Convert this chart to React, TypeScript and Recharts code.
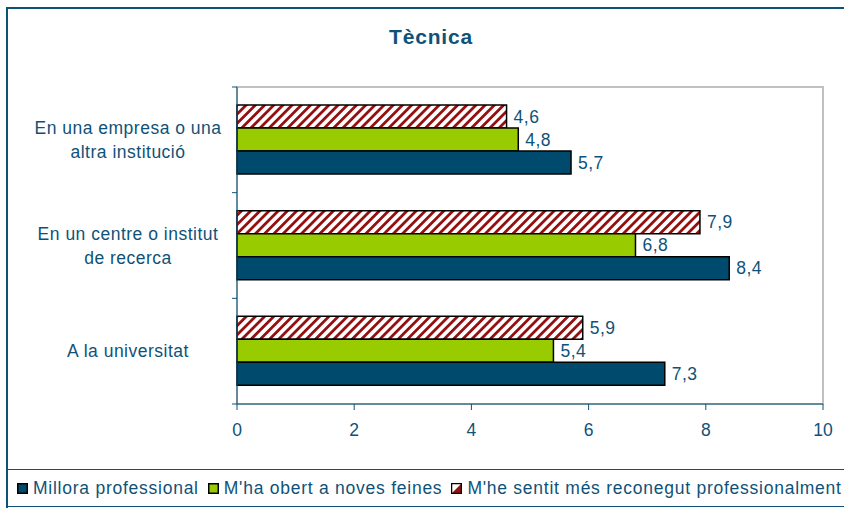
import React from 'react';
import { BarChart, Bar, XAxis, YAxis, LabelList, ReferenceArea } from 'recharts';

const categories = ['En una empresa o una altra institució', 'En un centre o institut de recerca', 'A la universitat'];
const categoryLines = [['En una empresa o una', 'altra institució'], ['En un centre o institut', 'de recerca'], ['A la universitat']];
const milloraProfessional = [5.7, 8.4, 7.3];
const obertNovesFeines = [4.8, 6.8, 5.4];
const sentitReconegut = [4.6, 7.9, 5.9];
const xTicks = [0, 2, 4, 6, 8, 10];

const seriesNames = ['Millora professional', "M'ha obert a noves feines", "M'he sentit més reconegut professionalment"];

const data = categories.map((c, i) => ({
  category: c,
  millora: milloraProfessional[i],
  noves: obertNovesFeines[i],
  reconegut: sentitReconegut[i],
}));

const TEXT = '#0f5278';
const BLUE = '#004a6e';
const GREEN = '#99cc00';
const HATCH = '#951010';
const FONT = '"Liberation Sans", Arial, sans-serif';
const FS = 17.5;
const LS = 0.5;

const W = 844;
const H = 470;
const TOP = 87;
const RIGHT = 21;
const Y_W = 237;
const X_H = 40;
const BOTTOM = 26;
const plotH = H - TOP - BOTTOM - X_H;
const band = plotH / categories.length;

const fmt = (v: any) => String(v).replace('.', ',');

const CatTick = (props: any) => {
  const { y, payload, index } = props;
  const lines = categoryLines[index] || [payload.value];
  const start = y - ((lines.length - 1) * 24) / 2;
  return (
    <g>
      <line x1={Y_W - 5} x2={Y_W} y1={y - band / 2} y2={y - band / 2} stroke={TEXT} />
      {index === categories.length - 1 && (
        <line x1={Y_W - 5} x2={Y_W} y1={y + band / 2} y2={y + band / 2} stroke={TEXT} />
      )}
      <text x={128} y={start} textAnchor="middle" dominantBaseline="central" fill={TEXT} fontSize={FS} letterSpacing={LS} fontFamily={FONT}>
        {lines.map((l: string, k: number) => (
          <tspan key={k} x={128} dy={k === 0 ? 0 : 24}>
            {l}
          </tspan>
        ))}
      </text>
    </g>
  );
};

function Swatch({ kind }: { kind: number }) {
  const fill = kind === 0 ? BLUE : kind === 1 ? GREEN : undefined;
  return (
    <svg width={11} height={11} style={{ marginRight: 5 }}>
      {kind === 2 ? (
        <>
          <rect x={0.5} y={0.5} width={10} height={10} fill="#fff" stroke="#000" />
          <polygon points="1,10 10,1 10,10" fill={HATCH} />
          <rect x={0.5} y={0.5} width={10} height={10} fill="none" stroke="#000" strokeWidth={1.5} />
        </>
      ) : (
        <rect x={0.75} y={0.75} width={9.5} height={9.5} fill={fill} stroke="#000" strokeWidth={1.5} />
      )}
    </svg>
  );
}

export default function App() {
  return (
    <div style={{ position: 'absolute', left: 0, top: 0, width: W, height: 508, overflow: 'hidden', background: '#fff', fontFamily: FONT }}>
      <div style={{ position: 'absolute', left: 6, top: 7, width: 900, height: 520, borderLeft: '2px solid #0f5278', borderTop: '2px solid #0f5278' }} />
      <div style={{ position: 'absolute', left: 0, top: 25, width: 862, textAlign: 'center', color: TEXT, fontSize: 21, letterSpacing: 0.8, fontWeight: 'bold' }}>
        Tècnica
      </div>
      <div style={{ position: 'absolute', left: 0, top: 0 }}>
        <BarChart
          width={W}
          height={H}
          data={data}
          layout="vertical"
          margin={{ top: TOP, right: RIGHT, left: 0, bottom: BOTTOM }}
          barCategoryGap="17%"
          barGap={0}
        >
          <defs>
            <pattern id="hatch" patternUnits="userSpaceOnUse" width={6.5} height={6.5} patternTransform="rotate(45)">
              <rect x={0} y={0} width={6.5} height={6.5} fill="#fff" />
              <rect x={0} y={0} width={2.8} height={6.5} fill={HATCH} />
            </pattern>
          </defs>
          <ReferenceArea x1={0} x2={10} fill="none" stroke="#c0c0c0" strokeWidth={2} ifOverflow="visible" />
          <XAxis
            type="number"
            domain={[0, 10]}
            ticks={xTicks}
            height={X_H}
            stroke={TEXT}
            tickSize={6}
            tick={{ fill: TEXT, fontSize: FS, fontFamily: FONT }}
            tickMargin={14}
          />
          <YAxis type="category" dataKey="category" width={Y_W} stroke={TEXT} tickLine={false} tick={<CatTick />} interval={0} />
          <Bar dataKey="reconegut" name={seriesNames[2]} fill="url(#hatch)" stroke="#000" strokeWidth={1.5} isAnimationActive={false}>
            <LabelList dataKey="reconegut" position="right" formatter={fmt} fill={TEXT} fontSize={FS} letterSpacing={LS} fontFamily={FONT} offset={7} />
          </Bar>
          <Bar dataKey="noves" name={seriesNames[1]} fill={GREEN} stroke="#000" strokeWidth={1.5} isAnimationActive={false}>
            <LabelList dataKey="noves" position="right" formatter={fmt} fill={TEXT} fontSize={FS} letterSpacing={LS} fontFamily={FONT} offset={7} />
          </Bar>
          <Bar dataKey="millora" name={seriesNames[0]} fill={BLUE} stroke="#000" strokeWidth={1.5} isAnimationActive={false}>
            <LabelList dataKey="millora" position="right" formatter={fmt} fill={TEXT} fontSize={FS} letterSpacing={LS} fontFamily={FONT} offset={7} />
          </Bar>
        </BarChart>
      </div>
      <div
        style={{
          position: 'absolute',
          left: 6,
          top: 469,
          width: 900,
          height: 36,
          borderLeft: '2px solid #0f5278',
          borderTop: '1px solid #0f5278',
          borderBottom: '1px solid #0f5278',
          display: 'flex',
          alignItems: 'center',
          paddingLeft: 9,
          color: TEXT,
          fontSize: FS,
          letterSpacing: 0.75,
          whiteSpace: 'nowrap',
        }}
      >
        {seriesNames.map((n, i) => (
          <span key={n} style={{ marginRight: 9, display: 'inline-flex', alignItems: 'center' }}>
            <Swatch kind={i} />
            {n}
          </span>
        ))}
      </div>
    </div>
  );
}
